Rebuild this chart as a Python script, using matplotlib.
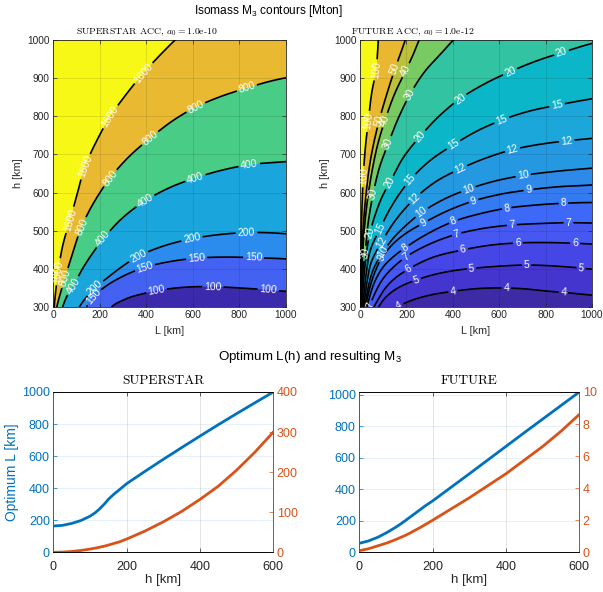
import numpy as np
import matplotlib.pyplot as plt

plt.rcParams['font.family'] = ['Liberation Sans', 'DejaVu Sans']
plt.rcParams['mathtext.fontset'] = 'custom'
plt.rcParams['mathtext.rm'] = 'Liberation Sans'
plt.rcParams['mathtext.it'] = 'Liberation Sans:italic'

# ---- isomass contours, SUPERSTAR ----
ss_levels = [100, 150, 200, 400, 800, 1600]
ss_L = [
    [240, 251, 300, 400, 500, 600, 700, 800, 900, 1000, 1020],
    [135, 143, 172, 220, 300, 394, 500, 616, 750, 867, 1000, 1020],
    [100, 112, 140, 179, 250, 300, 365, 450, 595, 700, 831, 1000, 1020],
    [35, 40, 60, 86, 130, 170, 215, 300, 394, 500, 609, 720, 842, 1000, 1020],
    [12, 15, 30, 50, 80, 122, 180, 244, 330, 415, 510, 612, 720, 831, 920, 1000, 1020],
    [3, 4, 10, 21, 40, 72, 100, 136, 190, 244, 310, 387, 450, 523, 540],
]
ss_h = [
    [290, 300, 318, 337, 348, 353, 353, 350, 346, 341, 340],
    [285, 300, 327, 352, 381, 404, 419, 428, 431, 429, 426, 425],
    [285, 300, 324, 349, 385, 408, 433, 455, 479, 489, 495, 492, 491],
    [290, 300, 330, 356, 405, 442, 479, 535, 578, 613, 638, 658, 673, 681, 682],
    [290, 300, 335, 376, 435, 511, 580, 638, 697, 742, 787, 824, 852, 874, 890, 901, 903],
    [290, 300, 340, 393, 460, 529, 590, 668, 740, 799, 855, 913, 955, 1000, 1010],
]
ss_labels = [
    [444, 685, 924],
    [172, 394, 616, 860],
    [179, 365, 595, 831],
    [86, 215, 394, 609, 842],
    [50, 122, 244, 415, 612, 831],
    [21, 72, 136, 244, 387],
]

# ---- isomass contours, FUTURE ----
fu_levels = [4, 5, 6, 7, 8, 9, 10, 12, 15, 20, 30, 40, 50, 100]
fu_L = [
    [140, 160, 200, 300, 400, 500, 600, 700, 800, 900, 1000, 1020],
    [70, 80, 100, 150, 200, 244, 300, 400, 481, 600, 718, 850, 953, 1000, 1020],
    [52, 60, 80, 110, 150, 211, 300, 445, 560, 681, 800, 927, 1000, 1020],
    [36, 43, 60, 100, 150, 198, 300, 417, 530, 654, 780, 898, 1000, 1020],
    [26, 32, 45, 70, 100, 150, 194, 300, 402, 520, 632, 750, 877, 1000, 1020],
    [20, 25, 40, 60, 93, 150, 200, 273, 380, 489, 600, 726, 850, 1000, 1020],
    [17, 22, 35, 55, 100, 150, 200, 266, 360, 467, 580, 704, 850, 1000, 1020],
    [13, 18, 30, 50, 93, 150, 237, 330, 431, 540, 654, 780, 898, 1000, 1020],
    [10, 14, 25, 45, 86, 130, 216, 300, 402, 500, 611, 720, 848, 1000, 1020],
    [7, 10, 20, 43, 70, 100, 129, 190, 259, 340, 431, 540, 647, 760, 870, 1000, 1020],
    [5, 7, 14, 22, 35, 57, 85, 122, 165, 216, 280, 350, 402, 420],
    [4, 6, 10, 18, 30, 50, 80, 108, 150, 198, 230, 255, 265],
    [3, 5, 9, 15, 25, 45, 83, 120, 151, 175, 195, 202],
    [1, 2.5, 5, 9, 14, 25, 36, 50, 69, 75, 79, 81],
]
fu_h = [
    [290, 300, 312, 331, 341, 348, 350, 348, 342, 337, 331, 330],
    [290, 300, 318, 345, 361, 371, 382, 395, 401, 407, 410, 407, 402, 399, 398],
    [290, 300, 322, 350, 375, 400, 427, 450, 462, 468, 469, 467, 465, 464],
    [290, 305, 330, 375, 408, 431, 465, 491, 506, 515, 519, 521, 520, 520],
    [290, 305, 335, 375, 405, 435, 455, 495, 524, 545, 559, 567, 572, 574, 574],
    [290, 305, 345, 385, 428, 470, 494, 520, 553, 578, 595, 607, 615, 620, 621],
    [290, 305, 350, 395, 445, 485, 515, 548, 582, 609, 630, 645, 656, 664, 665],
    [290, 310, 365, 420, 470, 525, 585, 630, 662, 690, 712, 727, 736, 742, 743],
    [290, 315, 380, 450, 505, 558, 633, 683, 725, 760, 790, 812, 829, 846, 848],
    [290, 320, 400, 495, 550, 595, 627, 695, 747, 800, 846, 886, 917, 945, 967, 991, 994],
    [290, 330, 400, 441, 520, 598, 668, 729, 795, 858, 918, 965, 1000, 1011],
    [290, 340, 420, 500, 570, 650, 735, 790, 860, 921, 963, 1000, 1012],
    [290, 350, 440, 520, 590, 685, 790, 867, 925, 965, 1000, 1012],
    [290, 380, 480, 570, 642, 730, 787, 860, 921, 960, 1000, 1012],
]
fu_labels = [
    [168, 401, 632, 877],
    [244, 481, 718, 953],
    [211, 445, 681, 927],
    [43, 198, 417, 654, 898],
    [194, 402, 632, 877],
    [93, 273, 489, 726],
    [100, 266, 467, 704],
    [93, 237, 431, 658, 891],
    [86, 216, 402, 611, 848],
    [43, 129, 259, 431, 647, 869],
    [22, 57, 122, 216],
    [108, 198],
    [83, 151],
    [14, 36, 69],
]

# ---- optimum L(h) and resulting M3 ----
h_opt = [0, 25, 50, 75, 100, 115, 125, 140, 150, 165, 180, 200, 250, 300, 350, 400, 450, 500, 550, 600]
ss_Lopt = [164, 168, 180, 198, 225, 248, 268, 303, 330, 362, 390, 428, 505, 580, 653, 725, 796, 865, 933, 1000]
ss_M3 = [0, 0.5, 2, 4.5, 8, 10.5, 12.5, 15.5, 18, 22, 26, 33, 53, 76, 102, 132, 165, 205, 250, 300]
fu_Lopt = [57, 72, 95, 125, 160, 183, 200, 226, 243, 269, 295, 326, 412, 498, 585, 672, 759, 845, 931, 1017]
fu_M3 = [0.1, 0.22, 0.4, 0.58, 0.8, 0.95, 1.05, 1.22, 1.35, 1.53, 1.73, 2.0, 2.7, 3.4, 4.15, 4.9, 5.75, 6.6, 7.55, 8.6]

ss_colors = ['#3b2aab', '#4462f2', '#2b8cee', '#1aa6dc', '#48cc86', '#e8b931', '#f8f816']
fu_colors = ['#3d2ba6', '#4535cf', '#4646e6', '#4657f2', '#3e68f8', '#347bf2', '#2d8ae9',
             '#2598e2', '#1ca7da', '#0cb6c9', '#32c3a2', '#78cb62', '#bbc13a', '#e9b830', '#f8f816']

BLUE = '#0072BD'
ORANGE = '#D95319'
AXC = '#262626'

W, H = 603, 592
fig = plt.figure(figsize=(W / 100, H / 100), dpi=100)


def box(x0, y0, x1, y1):
    return [x0 / W, 1 - y1 / H, (x1 - x0) / W, (y1 - y0) / H]


def smooth(px, py, sx, sy, n=600):
    # cubic Hermite through the read points, parametrised by pixel chord length
    px = np.asarray(px, float)
    py = np.asarray(py, float)
    t = np.concatenate([[0], np.cumsum(np.hypot(np.diff(px) * sx, np.diff(py) * sy))])
    tt = np.linspace(0, t[-1], n)
    i = np.clip(np.searchsorted(t, tt) - 1, 0, len(t) - 2)
    dt = t[i + 1] - t[i]
    u = (tt - t[i]) / dt

    def herm(p):
        m = np.gradient(p, t)
        return ((2 * u**3 - 3 * u**2 + 1) * p[i] + (u**3 - 2 * u**2 + u) * dt * m[i]
                + (-2 * u**3 + 3 * u**2) * p[i + 1] + (u**3 - u**2) * dt * m[i + 1])

    return herm(px), herm(py)


def contour_panel(rect, levels, Ls, hs, labs, colors):
    ax = fig.add_axes(box(*rect))
    sx = (rect[2] - rect[0]) / 1000
    sy = (rect[3] - rect[1]) / 700
    ax.set_xlim(0, 1000)
    ax.set_ylim(300, 1000)
    ax.set_facecolor(colors[-1])
    curves = [smooth(Ls[k], hs[k], sx, sy) for k in range(len(levels))]
    for k in range(len(levels) - 1, -1, -1):
        x, y = curves[k]
        ax.fill(np.concatenate([x, [2000, 2000, x[0]]]),
                np.concatenate([y, [y[-1], -500, -500]]),
                color=colors[k], lw=0, zorder=1)
    fs = 7.5
    for k, lev in enumerate(levels):
        x, y = curves[k]
        ly = y.copy()
        txt = str(lev)
        half = 0.5 * len(txt) * 0.56 * fs * 100 / 72 + 2.5
        for L0 in labs[k]:
            j = int(np.argmin(np.abs(x - L0)))
            j0, j1 = max(j - 4, 0), min(j + 4, len(x) - 1)
            ang = np.degrees(np.arctan2((y[j1] - y[j0]) * sy, (x[j1] - x[j0]) * sx))
            if ang > 90:
                ang -= 180
            if ang < -90:
                ang += 180
            d = np.hypot((x - x[j]) * sx, (y - y[j]) * sy)
            ly[d < half] = np.nan
            ax.text(x[j], y[j], txt, rotation=ang, rotation_mode='anchor',
                    ha='center', va='center', color='w', fontsize=fs, zorder=4, clip_on=True)
        ax.plot(x, ly, color='k', lw=1.2, zorder=3)
    ax.set_xticks(range(0, 1001, 200))
    ax.set_yticks(range(300, 1001, 100))
    ax.grid(True, color='k', alpha=0.12, lw=0.6)
    ax.set_axisbelow(False)
    ax.tick_params(direction='in', top=True, right=True, length=3, width=0.5,
                   labelsize=7.3, colors=AXC, pad=2.5)
    for s in ax.spines.values():
        s.set_color(AXC)
        s.set_linewidth(0.6)
    ax.set_xlabel('L [km]', fontsize=7.8, color=AXC, labelpad=4)
    ax.set_ylabel('h [km]', fontsize=7.8, color=AXC, labelpad=3)
    return ax


contour_panel((53.3, 40, 286, 307), ss_levels, ss_L, ss_h, ss_labels, ss_colors)
contour_panel((360, 40, 592, 307), fu_levels, fu_L, fu_h, fu_labels, fu_colors)


def optimum_panel(rect, Lopt, M3, ymax_left, ymax_right, rstep, title):
    ax = fig.add_axes(box(*rect))
    ax.plot(h_opt, Lopt, color=BLUE, lw=2.0)
    ax.set_xlim(0, 600)
    ax.set_ylim(0, ymax_left)
    ax.set_xticks([0, 200, 400, 600])
    ax.set_yticks(range(0, 1001, 200))
    ax.grid(True, axis='x', color='k', alpha=0.12, lw=0.6)
    ax.grid(True, axis='y', color=BLUE, alpha=0.12, lw=0.6)
    ax.tick_params(axis='x', direction='in', top=True, length=3, width=0.5,
                   labelsize=9, colors=AXC, pad=6)
    ax.tick_params(axis='y', direction='in', length=3, width=0.5,
                   labelsize=9, colors=BLUE, pad=2.5)
    ax.spines['left'].set_color(BLUE)
    ax.spines['top'].set_color(AXC)
    ax.spines['bottom'].set_color(AXC)
    for s in ax.spines.values():
        s.set_linewidth(0.6)
    ax.set_xlabel('h [km]', fontsize=9.5, color=AXC, labelpad=1)
    ax2 = ax.twinx()
    ax2.plot(h_opt, M3, color=ORANGE, lw=2.0)
    ax2.set_ylim(0, ymax_right)
    ax2.set_yticks(np.arange(0, ymax_right + 1e-9, rstep))
    ax2.tick_params(axis='y', direction='in', length=3, width=0.5,
                    labelsize=9, colors=ORANGE, pad=2.5)
    ax2.spines['right'].set_color(ORANGE)
    ax2.spines['left'].set_color(BLUE)
    for s in ax2.spines.values():
        s.set_linewidth(0.6)
    fig.text((rect[0] + rect[2]) / 2 / W, 1 - 381 / H, title, ha='center', va='center',
             fontsize=9.6, family='cmr10', color='k')
    return ax, ax2


bl, bl2 = optimum_panel((53.3, 392, 273.3, 552.3), ss_Lopt, ss_M3, 1000, 400, 100, 'SUPERSTAR')
bl.set_ylabel('Optimum L [km]', fontsize=10, color=BLUE, labelpad=2)
br, br2 = optimum_panel((359.3, 392, 579.3, 552.3), fu_Lopt, fu_M3, 1017, 10, 2, 'FUTURE')
br2.set_ylabel('M$_3$ [Mton]', fontsize=10, color=ORANGE)
br2.yaxis.set_label_coords((607 - 359.3) / 220, 0.5)

# titles
fig.text(146.5 / W, 1 - 32 / H, 'SUPERSTAR ACC, $a_0 = 1.0$e-10', ha='center', va='center',
         fontsize=7, family='cmr10', math_fontfamily='cm')
fig.text(413 / W, 1 - 32 / H, 'FUTURE ACC, $a_0 = 1.0$e-12', ha='center', va='center',
         fontsize=7, family='cmr10', math_fontfamily='cm')
fig.text(268.7 / W, 1 - 11 / H, 'Isomass M$_3$ contours [Mton]', ha='center', va='center',
         fontsize=8.6)
fig.text(310 / W, 1 - 357 / H, 'Optimum L(h) and resulting M$_3$', ha='center', va='center',
         fontsize=9.6)

fig.savefig('out.png', dpi=100)
